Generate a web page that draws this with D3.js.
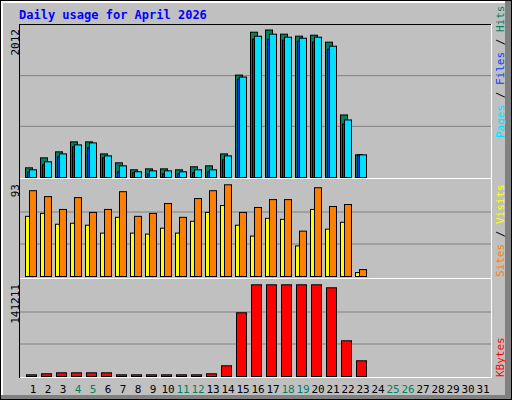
<!DOCTYPE html>
<html><head><meta charset="utf-8">
<script src="https://cdn.jsdelivr.net/npm/d3@7"></script>
<style>body{margin:0;background:#fff}svg{display:block}</style>
</head><body>
<svg id="c" width="512" height="400"></svg>
<script>
const days = d3.range(1,32);
const weekends = [4,5,11,12,18,19,25,26];
const hits  = [132,268,350,486,486,322,200,105,118,118,105,146,159,322,1397,1982,2012,1955,1928,1941,1846,853,309];
const files = [72,173,282,418,404,268,78,64,50,50,50,64,78,241,1342,1886,1886,1873,1859,1846,1750,730,309];
const pages = [105,214,322,445,472,295,159,78,91,91,78,105,105,295,1370,1927,1955,1914,1900,1914,1791,785,309];
const visits= [87,81,68,80,65,68,86,61,64,74,60,79,87,93,65,70,78,78,46,90,71,73,7];
const sites = [61,64,53,54,52,44,60,44,43,49,44,56,65,72,52,41,59,58,31,68,48,55,4];
const kbytes= [2600,4200,5700,5700,5700,5700,2600,2600,2600,2600,2600,2600,4200,16500,98100,141211,141211,141211,141211,141211,136600,55000,24200];
const title = "Daily usage for April 2026";

const svg = d3.select("#c");
const mono = "DejaVu Sans Mono, monospace";
svg.append("rect").attr("x",0).attr("y",0).attr("width",512).attr("height",400).attr("fill","#000");
svg.append("rect").attr("x",1).attr("y",1).attr("width",510).attr("height",398).attr("fill","#808080");
svg.append("rect").attr("x",1).attr("y",1).attr("width",504).attr("height",394).attr("fill","#fff");
svg.append("rect").attr("x",3).attr("y",3).attr("width",502).attr("height",392).attr("fill","#c0c0c0");

svg.append("text").attr("x",19).attr("y",19).attr("font-family",mono).attr("font-weight","bold")
  .attr("font-size",12).attr("fill","#0000ff").text(title);

const x = d3.scaleLinear().domain([1,32]).range([25,490]);
const L=20,R=491;
const panels=[{top:25,base:177,max:2012},{top:180,base:276,max:93},{top:280,base:376,max:141211}];
const ys = panels.map((p,i)=>{
  const s=d3.scaleLinear().domain([0,p.max]).range([p.base, [29.5,184.3,284.3][i]]);
  svg.append("rect").attr("x",L).attr("y",p.top).attr("width",R-L).attr("height",p.base-p.top+1).attr("fill","#c0c0c0");
  const h=p.base-p.top;
  [1,2].forEach(k=>svg.append("line").attr("x1",L).attr("x2",R).attr("y1",p.base-h*k/3).attr("y2",p.base-h*k/3).attr("stroke","#808080"));
  svg.append("text").attr("transform",`translate(19,${[29,184,284][i]}) rotate(-90)`).attr("text-anchor","end")
    .attr("font-family",mono).attr("font-size",11).attr("fill","#000").text(p.max);
  return s;
});
svg.append("line").attr("x1",L).attr("x2",R).attr("y1",24.5).attr("y2",24.5).attr("stroke","#000");
svg.append("line").attr("x1",L-0.5).attr("x2",L-0.5).attr("y1",24).attr("y2",378).attr("stroke","#000");
svg.append("line").attr("x1",R+0.5).attr("x2",R+0.5).attr("y1",24).attr("y2",378).attr("stroke","#fff");
[178.5,278.5].forEach(y=>svg.append("line").attr("x1",L).attr("x2",R).attr("y1",y).attr("y2",y).attr("stroke","#fff"));
svg.append("line").attr("x1",L).attr("x2",R+1).attr("y1",377.5).attr("y2",377.5).attr("stroke","#fff");

function bars(data,s,off,w,color){
  svg.append("g").selectAll("rect").data(data).join("rect")
    .attr("x",(d,i)=>x(i+1)+off+0.5).attr("width",w)
    .attr("y",d=>s(d)+0.5).attr("height",d=>Math.max(0.5,s(0)-s(d)))
    .attr("fill",color).attr("stroke","#000").attr("stroke-width",1);
}
bars(hits,ys[0],0,7,"#008060");
bars(files,ys[0],2,4,"#0040ff");
bars(pages,ys[0],4,7,"#00e0ff");
bars(sites,ys[1],0,5,"#ffff00");
bars(visits,ys[1],4,7,"#ff8000");
bars(kbytes,ys[2],1,10,"#ff0000");

svg.append("g").selectAll("text").data(days).join("text")
  .attr("x",d=>x(d)+8).attr("y",393).attr("text-anchor","middle")
  .attr("font-family",mono).attr("font-size",11)
  .attr("fill",d=>weekends.includes(d)?"#008060":"#000").text(d=>d);

function rlabel(y,parts){
  const t=svg.append("text").attr("transform",`translate(504,${y}) rotate(-90)`).attr("text-anchor","start")
    .attr("font-family",mono).attr("font-size",11).attr("xml:space","preserve");
  parts.forEach(([s,c])=>t.append("tspan").attr("fill",c).text(s));
}
rlabel(138,[["Pages","#00e0ff"],[" / ","#000"],["Files","#0040ff"],[" / ","#000"],["Hits","#008060"]]);
rlabel(277,[["Sites","#ff8000"],[" / ","#000"],["Visits","#ffff00"]]);
rlabel(377,[["KBytes","#ff0000"]]);
</script>
</body></html>
